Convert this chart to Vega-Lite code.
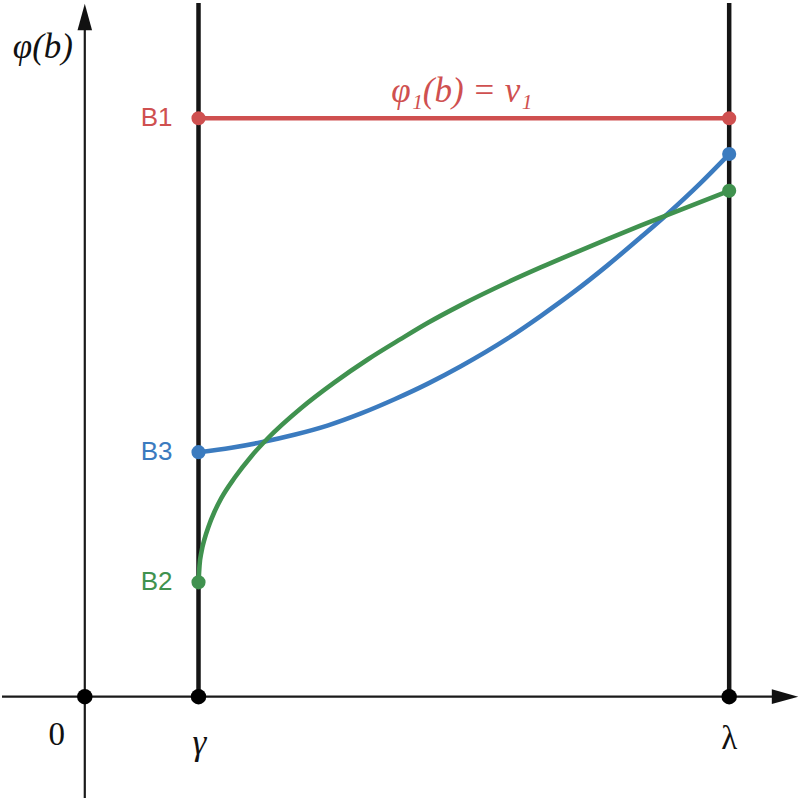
{
  "$schema": "https://vega.github.io/schema/vega-lite/v6.json",
  "width": 800,
  "height": 800,
  "autosize": {"type": "fit", "contains": "padding"},
  "padding": 0,
  "background": "white",
  "config": {"view": {"stroke": null}},
  "datasets": {
    "axes": [
      {"x": -83, "y": 0, "x2": 702, "y2": 0},
      {"x": 0, "y": -102, "x2": 0, "y2": 684}
    ],
    "bounds": [
      {"x": 114, "y": 0, "x2": 114, "y2": 698},
      {"x": 646, "y": 0, "x2": 646, "y2": 698}
    ],
    "curves": [
      {"s": "B1", "x": 114, "y": 582},
      {"s": "B1", "x": 646, "y": 582},
      {"s": "B3", "x": 114, "y": 246},
      {"s": "B3", "x": 147, "y": 250.5},
      {"s": "B3", "x": 177, "y": 256},
      {"s": "B3", "x": 210, "y": 263.5},
      {"s": "B3", "x": 244, "y": 273},
      {"s": "B3", "x": 277, "y": 285},
      {"s": "B3", "x": 310, "y": 299},
      {"s": "B3", "x": 344, "y": 315},
      {"s": "B3", "x": 377, "y": 332.5},
      {"s": "B3", "x": 424, "y": 360.5},
      {"s": "B3", "x": 457, "y": 383},
      {"s": "B3", "x": 490, "y": 407},
      {"s": "B3", "x": 524, "y": 434},
      {"s": "B3", "x": 557, "y": 462},
      {"s": "B3", "x": 585, "y": 486.5},
      {"s": "B3", "x": 617, "y": 516.5},
      {"s": "B3", "x": 646, "y": 546},
      {"s": "B2", "x": 114, "y": 115},
      {"s": "B2", "x": 115, "y": 132},
      {"s": "B2", "x": 117, "y": 146},
      {"s": "B2", "x": 120, "y": 158.5},
      {"s": "B2", "x": 124, "y": 171},
      {"s": "B2", "x": 130, "y": 186},
      {"s": "B2", "x": 137, "y": 200},
      {"s": "B2", "x": 150, "y": 220},
      {"s": "B2", "x": 167, "y": 242},
      {"s": "B2", "x": 184, "y": 260.5},
      {"s": "B2", "x": 217, "y": 290.5},
      {"s": "B2", "x": 250, "y": 316},
      {"s": "B2", "x": 284, "y": 339.5},
      {"s": "B2", "x": 317, "y": 360},
      {"s": "B2", "x": 344, "y": 376.2},
      {"s": "B2", "x": 377, "y": 394},
      {"s": "B2", "x": 424, "y": 417},
      {"s": "B2", "x": 457, "y": 431.9},
      {"s": "B2", "x": 490, "y": 446.1},
      {"s": "B2", "x": 524, "y": 460.4},
      {"s": "B2", "x": 557, "y": 473.9},
      {"s": "B2", "x": 585, "y": 485.1},
      {"s": "B2", "x": 646, "y": 509}
    ],
    "dots": [
      {"s": "B1", "x": 114, "y": 582},
      {"s": "B1", "x": 646, "y": 582},
      {"s": "B3", "x": 114, "y": 246},
      {"s": "B3", "x": 646, "y": 546},
      {"s": "B2", "x": 114, "y": 115},
      {"s": "B2", "x": 646, "y": 509}
    ],
    "blackdots": [
      {"x": 0, "y": 0},
      {"x": 114, "y": 0},
      {"x": 646, "y": 0}
    ],
    "arrows": [
      {"dir": "up", "x": 0, "y": 684},
      {"dir": "right", "x": 702, "y": 0}
    ],
    "labels": [
      {"s": "B1", "text": "B1", "x": 88, "y": 582},
      {"s": "B3", "text": "B3", "x": 88, "y": 246},
      {"s": "B2", "text": "B2", "x": 88, "y": 115}
    ],
    "italic": [
      {"text": "φ(b)", "x": -42, "y": 654},
      {"text": "γ", "x": 115, "y": -47}
    ],
    "upright": [
      {"text": "λ", "x": 646, "y": -43},
      {"text": "0", "x": -28, "y": -39}
    ],
    "eq": [
      {"text": "φ₁(b) = v₁", "x": 378, "y": 609}
    ]
  },
  "encoding": {
    "x": {"field": "x", "type": "quantitative", "scale": {"domain": [-83, 717]}, "axis": null},
    "y": {"field": "y", "type": "quantitative", "scale": {"domain": [-102, 698]}, "axis": null}
  },
  "layer": [
    {
      "data": {"name": "axes"},
      "mark": {"type": "rule", "color": "#1a1a1a", "strokeWidth": 2.2},
      "encoding": {"x2": {"field": "x2"}, "y2": {"field": "y2"}}
    },
    {
      "data": {"name": "bounds"},
      "mark": {"type": "rule", "color": "#151515", "strokeWidth": 4.5},
      "encoding": {"x2": {"field": "x2"}, "y2": {"field": "y2"}}
    },
    {
      "data": {"name": "arrows"},
      "mark": {"type": "point", "filled": true, "opacity": 1, "color": "#111111", "size": 700},
      "encoding": {
        "shape": {"field": "dir", "type": "nominal", "legend": null,
          "scale": {"domain": ["up", "right"], "range": ["M0,-1L0.55,1L-0.55,1Z", "M1,0L-1,0.55L-1,-0.55Z"]}}
      }
    },
    {
      "data": {"name": "curves"},
      "mark": {"type": "line", "strokeWidth": 4.6, "interpolate": "monotone"},
      "encoding": {
        "detail": {"field": "s"},
        "color": {"field": "s", "type": "nominal", "legend": null,
          "scale": {"domain": ["B1", "B3", "B2"], "range": ["#cf5050", "#3b7bbf", "#40924f"]}}
      }
    },
    {
      "data": {"name": "dots"},
      "mark": {"type": "point", "filled": true, "opacity": 1, "size": 200},
      "encoding": {
        "color": {"field": "s", "type": "nominal", "legend": null,
          "scale": {"domain": ["B1", "B3", "B2"], "range": ["#cf5050", "#3b7bbf", "#40924f"]}}
      }
    },
    {
      "data": {"name": "blackdots"},
      "mark": {"type": "point", "filled": true, "opacity": 1, "size": 240, "color": "#000000"}
    },
    {
      "data": {"name": "labels"},
      "mark": {"type": "text", "align": "right", "baseline": "middle", "font": "Liberation Sans", "fontSize": 26},
      "encoding": {
        "text": {"field": "text"},
        "color": {"field": "s", "type": "nominal", "legend": null,
          "scale": {"domain": ["B1", "B3", "B2"], "range": ["#cf5050", "#3b7bbf", "#40924f"]}}
      }
    },
    {
      "data": {"name": "italic"},
      "mark": {"type": "text", "align": "center", "baseline": "middle", "font": "Liberation Serif", "fontStyle": "italic", "fontSize": 35, "color": "#111111"},
      "encoding": {"text": {"field": "text"}}
    },
    {
      "data": {"name": "upright"},
      "mark": {"type": "text", "align": "center", "baseline": "middle", "font": "Liberation Serif", "fontSize": 33, "color": "#111111"},
      "encoding": {"text": {"field": "text"}}
    },
    {
      "data": {"name": "eq"},
      "mark": {"type": "text", "align": "center", "baseline": "middle", "font": "Liberation Serif", "fontStyle": "italic", "fontSize": 35, "color": "#cf5050"},
      "encoding": {"text": {"field": "text"}}
    }
  ]
}
